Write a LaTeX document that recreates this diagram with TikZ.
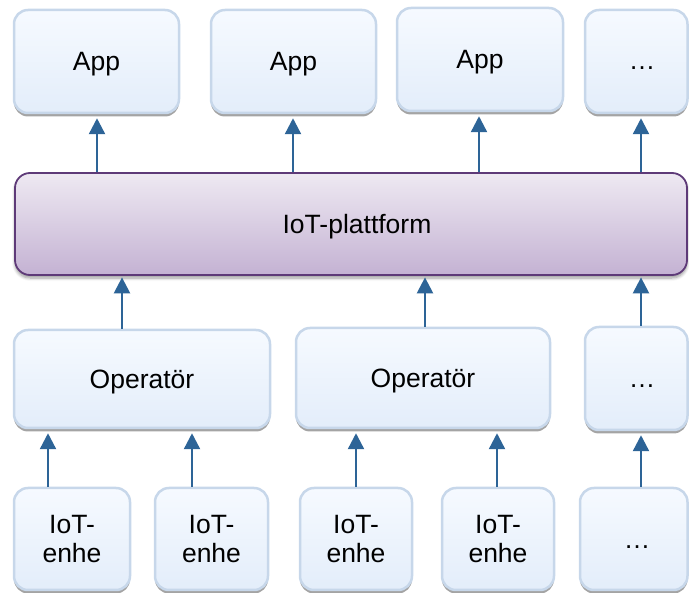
\documentclass[tikz,border=0pt]{standalone}
\usepackage{fontspec}
\setmainfont{Liberation Sans}
\usetikzlibrary{arrows.meta,shadows,shadows.blur}

\definecolor{boxline}{HTML}{C7D7EA}
\definecolor{boxtop}{HTML}{F6FAFF}
\definecolor{boxbot}{HTML}{E3EDFA}
\definecolor{boxshade}{HTML}{A4A4A4}
\definecolor{platline}{HTML}{5E3A78}
\definecolor{plattop}{HTML}{EEE9F2}
\definecolor{platbot}{HTML}{C4B2D3}
\definecolor{arrowblue}{HTML}{2D6497}

\tikzset{
  labelfont/.style={font=\fontsize{26.5}{29}\selectfont},
  unitbox/.style={draw=boxline, line width=2.5pt, rounded corners=14pt,
    top color=boxtop, bottom color=boxbot,
    general shadow={fill=boxshade, shadow yshift=-3.5pt},
    align=center, inner sep=0pt, labelfont},
  oneline/.style={text height=19pt, text depth=0pt},
  platbox/.style={draw=platline, line width=1.8pt, rounded corners=15pt,
    top color=plattop, bottom color=platbot,
    blur shadow={shadow xshift=0pt, shadow yshift=-3pt, shadow blur steps=6, shadow blur radius=3pt},
    inner sep=0pt},
  dots/.style={labelfont, anchor=base, inner sep=0pt},
  flow/.style={draw=arrowblue, line width=2.4pt,
    -{Triangle[width=16pt,length=16pt]}, shorten >=4pt},
}

\begin{document}
\begin{tikzpicture}[x=1pt,y=-1pt]
  \useasboundingbox (0,0) rectangle (689,593);
  \clip (0,0) rectangle (689,593);

  % applications
  \node[unitbox, oneline, minimum width=165pt, minimum height=103pt] (app1) at (96.5,61.5) {App};
  \node[unitbox, oneline, minimum width=165pt, minimum height=103pt] (app2) at (293.5,61.5) {App};
  \node[unitbox, oneline, minimum width=166pt, minimum height=103pt] (app3) at (480,59.5) {App};
  \node[unitbox, minimum width=102.5pt, minimum height=103pt] (app4) at (636.25,61.5) {};
  \node[dots] (app4dots) at (642,70) {…};

  % platform
  \node[platbox, minimum width=672pt, minimum height=102pt] (plat) at (351,224) {};
  \node[labelfont, oneline, inner sep=0pt] (platname) at (357,224) {IoT-plattform};

  % operators
  \node[unitbox, oneline, minimum width=256pt, minimum height=98pt] (op1) at (142,379) {Operatör};
  \node[unitbox, oneline, minimum width=254pt, minimum height=100pt] (op2) at (423,378) {Operatör};
  \node[unitbox, minimum width=102.5pt, minimum height=103pt] (op3) at (636.25,378.5) {};
  \node[dots] (op3dots) at (642,388) {…};

  % devices
  \node[unitbox, minimum width=116pt, minimum height=102pt] (d1) at (72,539) {IoT-\\enhe};
  \node[unitbox, minimum width=113pt, minimum height=102pt] (d2) at (211.5,539) {IoT-\\enhe};
  \node[unitbox, minimum width=112pt, minimum height=102pt] (d3) at (356,539) {IoT-\\enhe};
  \node[unitbox, minimum width=112pt, minimum height=102pt] (d4) at (498,539) {IoT-\\enhe};
  \node[unitbox, minimum width=107.5pt, minimum height=102pt] (d5) at (633.75,539) {};
  \node[dots] (d5dots) at (637,548.5) {…};

  % connector columns
  \coordinate (ca1) at (97,0);
  \coordinate (ca2) at (293,0);
  \coordinate (ca3) at (479,0);
  \coordinate (ca4) at (641,0);
  \coordinate (cm1) at (122,0);
  \coordinate (cm2) at (425,0);
  \coordinate (cm3) at (641,0);
  \coordinate (cd1) at (48,0);
  \coordinate (cd2) at (192,0);
  \coordinate (cd3) at (356,0);
  \coordinate (cd4) at (497,0);
  \coordinate (cd5) at (641,0);

  % platform -> applications
  \begin{scope}[shorten >=6pt]
    \draw[flow] (plat.north -| ca1) -- (app1.south -| ca1);
    \draw[flow] (plat.north -| ca2) -- (app2.south -| ca2);
    \draw[flow] (plat.north -| ca3) -- (app3.south -| ca3);
    \draw[flow] (plat.north -| ca4) -- (app4.south -| ca4);
  \end{scope}

  % operators -> platform
  \draw[flow, shorten >=1.5pt] (op1.north -| cm1) -- (plat.south -| cm1);
  \draw[flow, shorten >=1.5pt] (op2.north -| cm2) -- (plat.south -| cm2);
  \draw[flow, shorten >=1.5pt] (op3.north -| cm3) -- (plat.south -| cm3);

  % devices -> operators
  \draw[flow] (d1.north -| cd1) -- (op1.south -| cd1);
  \draw[flow] (d2.north -| cd2) -- (op1.south -| cd2);
  \draw[flow] (d3.north -| cd3) -- (op2.south -| cd3);
  \draw[flow] (d4.north -| cd4) -- (op2.south -| cd4);
  \draw[flow] (d5.north -| cd5) -- (op3.south -| cd5);
\end{tikzpicture}
\end{document}
